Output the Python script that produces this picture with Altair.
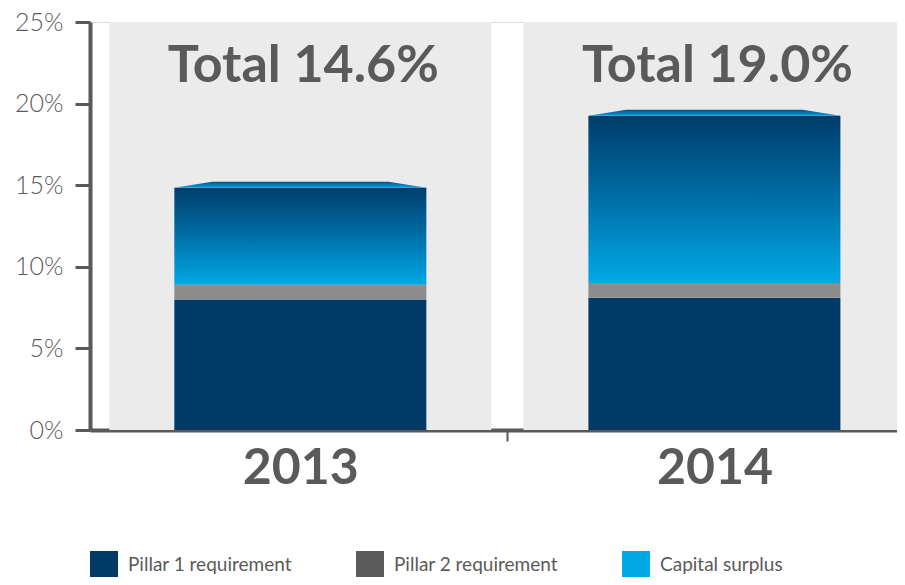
import altair as alt
import pandas as pd

years = ["2013", "2014"]
year_pos = [0, 1]
pillar1 = [8.0, 8.1]
pillar2 = [0.9, 0.9]
surplus = [5.95, 10.25]
total_labels = ["Total 14.6%", "Total 19.0%"]
series = ["Pillar 1 requirement", "Pillar 2 requirement", "Capital surplus"]
series_colors = ["#003b68", "#5b5b5b", "#00a8e6"]
y_ticks = [0, 5, 10, 15, 20, 25]

TEXT = "#5a5a5a"
FONT = "Lato"

df = pd.DataFrame({
    "year": years,
    "pos": year_pos,
    "p1": pillar1,
    "p2": pillar2,
    "sur": surplus,
    "label": total_labels,
})
df["p1_top"] = df["p1"]
df["p2_top"] = df["p1"] + df["p2"]
df["total"] = df["p2_top"] + df["sur"]
df["zero"] = 0
df["panel_top"] = 25
df["label_y"] = 21.3

legend_df = pd.DataFrame({"series": series})

W, H = 807, 408
xscale = alt.Scale(domain=[-0.508, 1.441], nice=False, zero=False, padding=0)
yscale = alt.Scale(domain=[0, 25], nice=False)

x_axis = alt.Axis(
    values=[0, 0.5, 1],
    labelExpr="datum.value == 0 ? '2013' : (datum.value == 1 ? '2014' : '')",
    title=None,
    grid=False,
    domainColor="#595959",
    domainWidth=4,
    tickColor="#595959",
    tickWidth=2,
    tickSize=11,
    tickOpacity={"condition": {"test": "datum.value == 0.5", "value": 1}, "value": 0},
    labelPadding=2,
    labelFontSize=50,
    labelFont=FONT,
    labelFontWeight="bold",
    labelColor=TEXT,
    labelBaseline="top",
)
y_axis = alt.Axis(
    values=y_ticks,
    labelExpr="datum.value + '%'",
    title=None,
    grid=False,
    domainColor="#595959",
    domainWidth=4,
    tickColor="#595959",
    tickWidth=3,
    tickSize=15,
    labelPadding=12,
    labelFontSize=25,
    labelFont=FONT,
    labelFontWeight=300,
    labelColor=TEXT,
)

base = alt.Chart(df)

panels = base.mark_bar(size=382, color="#ebebeb").encode(
    x=alt.X("pos:Q", scale=xscale, axis=x_axis),
    y=alt.Y("zero:Q", scale=yscale, axis=y_axis),
    y2="panel_top:Q",
)

bar_p1 = base.mark_bar(size=252, color="#003b68").encode(
    x="pos:Q", y="zero:Q", y2="p1_top:Q"
)
bar_p2 = base.mark_bar(size=252, color="#8e8d8e").encode(
    x="pos:Q", y="p1_top:Q", y2="p2_top:Q"
)
grad = alt.LinearGradient(
    gradient="linear",
    x1=0, y1=0, x2=0, y2=1,
    stops=[
        alt.GradientStop(offset=0, color="#003d6b"),
        alt.GradientStop(offset=0.5, color="#006fa7"),
        alt.GradientStop(offset=1, color="#00a9e6"),
    ],
)
bar_sur = base.mark_bar(size=252, color=grad).encode(
    x="pos:Q", y="p2_top:Q", y2="total:Q"
)

cap_grad = alt.LinearGradient(
    gradient="linear",
    x1=0, y1=0, x2=0, y2=1,
    stops=[
        alt.GradientStop(offset=0, color="#0a4f80"),
        alt.GradientStop(offset=0.6, color="#0080c0"),
        alt.GradientStop(offset=1, color="#00a0dc"),
    ],
)
cap = base.mark_point(
    shape="M -1 0 L -0.7 -0.0476 L 0.7 -0.0476 L 1 0 Z",
    size=252 * 252,
    filled=True,
    fill=cap_grad,
    opacity=1,
    strokeWidth=0,
).encode(x="pos:Q", y="total:Q")

totals = base.mark_text(
    font=FONT, fontSize=52, fontWeight="bold", color=TEXT,
    align="center", baseline="alphabetic", dx=3,
).encode(x="pos:Q", y="label_y:Q", text="label:N")

legend_layer = alt.Chart(legend_df).mark_square(opacity=0).encode(
    color=alt.Color(
        "series:N",
        scale=alt.Scale(domain=series, range=series_colors),
        legend=alt.Legend(
            title=None,
            orient="none",
            legendX=0,
            legendY=529,
            direction="horizontal",
            symbolType="square",
            symbolSize=784,
            symbolOpacity=1,
            symbolStrokeWidth=0,
            labelFont=FONT,
            labelFontSize=19,
            labelColor=TEXT,
            labelOffset=10,
            labelLimit=300,
            gridAlign="all",
            columnPadding=64,
        ),
    )
)

chart = alt.layer(panels, bar_p1, bar_p2, bar_sur, cap, totals, legend_layer).properties(
    width=W,
    height=H,
    autosize=alt.AutoSizeParams(type="none"),
    padding={"left": 82, "top": 14, "right": 0, "bottom": 147},
).configure_view(stroke=None).configure(background="white")

chart.save("out.html", embed_options={"renderer": "svg", "actions": False})
